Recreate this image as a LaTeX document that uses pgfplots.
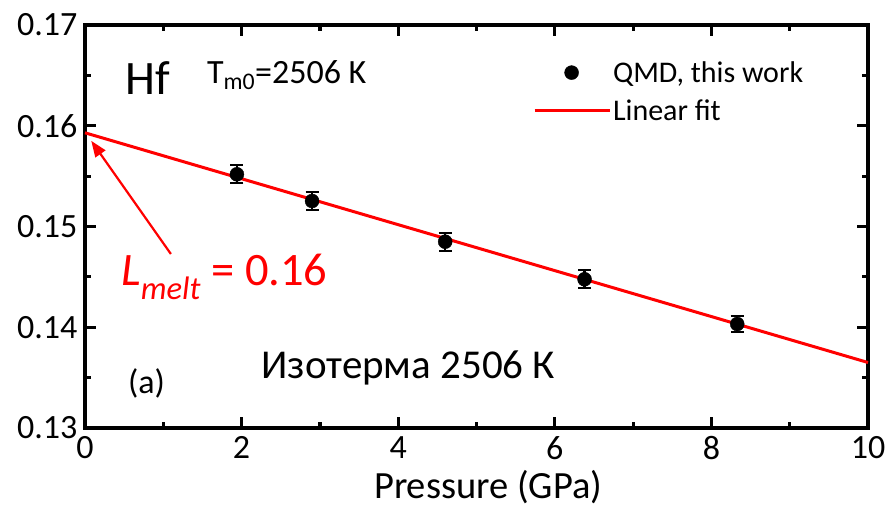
\documentclass[border=0pt]{standalone}
\usepackage{fontspec}
\setmainfont{Carlito}
\usepackage{pgfplots}
\pgfplotsset{compat=1.18}
\usetikzlibrary{arrows.meta}
\pgfplotstableread{
x      y        err
1.94   0.15518  0.0009
2.90   0.15253  0.0009
4.60   0.14849  0.0009
6.38   0.14476  0.0009
8.33   0.14032  0.0008
}\qmd
\begin{document}
\begin{tikzpicture}
\begin{axis}[
  at={(0,0)}, anchor=south west,
  width=783pt, height=403pt, scale only axis,
  xmin=0, xmax=10, ymin=0.13, ymax=0.17,
  xtick={0,2,4,6,8,10}, ytick={0.13,0.14,0.15,0.16,0.17},
  minor x tick num=1, minor y tick num=1,
  tick align=inside,
  major tick length=11pt, minor tick length=6pt,
  axis line style={line width=3.4pt},
  every tick/.style={black, line width=3.2pt},
  /pgf/number format/assume math mode=true,
  ticklabel style={font=\fontsize{34}{40}\selectfont},
  yticklabel style={/pgf/number format/fixed, /pgf/number format/fixed zerofill, /pgf/number format/precision=2, xshift=-4pt},
  xticklabel style={yshift=-5pt},
  xlabel={Pressure (GPa)},
  xlabel style={font=\fontsize{38.5}{44}\selectfont, at={(axis description cs:0.515,0)}, anchor=base, yshift=-71pt},
  legend style={at={(rel axis cs:0.572,0.915)}, anchor=north west, draw=none, fill=none,
    font=\fontsize{30}{36}\selectfont, row sep=12pt, inner sep=0pt},
  legend cell align=left,
  clip=false,
]
\addplot[only marks, mark=*, mark size=7pt, black,
  legend image code/.code={\draw[black, mark=*, mark size=7pt] plot coordinates {(37pt,0pt)};},
  error bars/.cd, y dir=both, y explicit,
  error bar style={line width=2.2pt, black},
  error mark options={rotate=90, mark size=6.5pt, line width=2.2pt, black}]
  table[x=x, y=y, y error=err] {\qmd};
\addlegendentry{QMD, this work}
\addlegendimage{legend image code/.code={\draw[red, line width=3pt] (0pt,0pt)--(75pt,0pt);}}
\addplot[red, line width=3pt, forget plot] coordinates {(0,0.1593) (10,0.1365)};
\addlegendentry{Linear fit}
\draw[red, line width=2.2pt, -{Triangle[length=16pt,width=12pt]}] (axis cs:1.097,0.14727) -- (axis cs:0.08,0.1585);
\node[anchor=center, font=\fontsize{48}{54}\selectfont] at (axis cs:0.80,0.16474) {Hf};
\node[anchor=base west, font=\fontsize{34}{40}\selectfont, inner sep=0pt] at (axis cs:1.556,0.16424) {T\textsubscript{m0}=2506 K};
\node[anchor=base west, font=\fontsize{34}{39}\selectfont, inner sep=0pt] at (axis cs:0.548,0.13347) {(a)};
\node[anchor=base, font=\fontsize{41}{47}\selectfont, inner sep=0pt] at (axis cs:4.13,0.13496) {Изотерма 2506 К};
\node[anchor=base west, text=red, font=\fontsize{46.5}{52}\selectfont, inner sep=0pt] at (axis cs:0.46,0.14419) {\textit{L\textsubscript{melt}} = 0.16};
\end{axis}
\pgfresetboundingbox
\path[use as bounding box] (-85pt,-82pt) rectangle (804pt,428pt);
\end{tikzpicture}
\end{document}
